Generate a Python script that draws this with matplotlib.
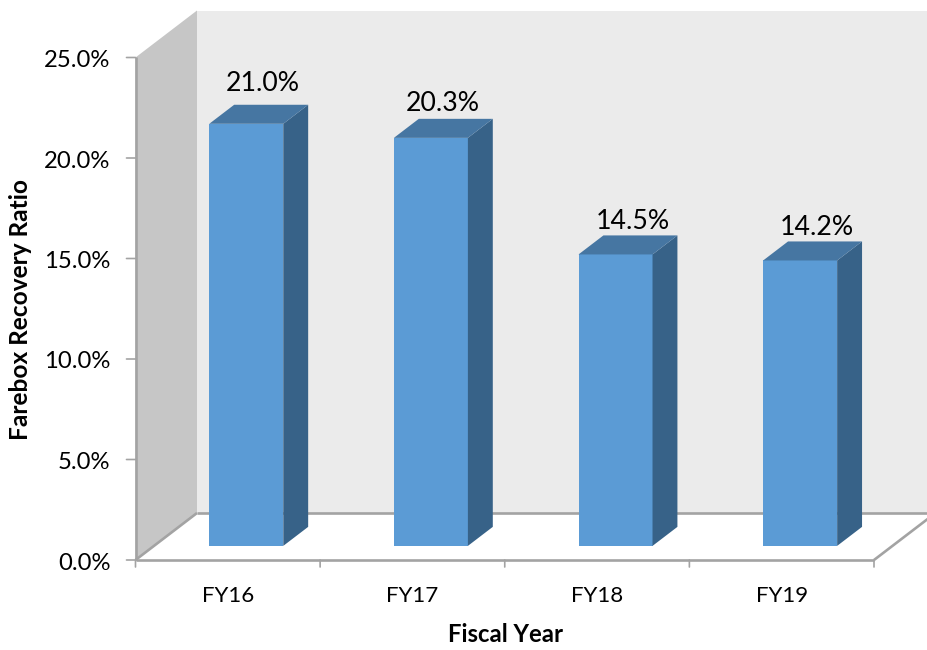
import matplotlib
matplotlib.use("Agg")
import matplotlib.pyplot as plt
from matplotlib.patches import Polygon

plt.rcParams['font.family'] = ['Lato', 'DejaVu Sans']

categories = ["FY16", "FY17", "FY18", "FY19"]
values = [21.0, 20.3, 14.5, 14.2]
value_labels = ["21.0%", "20.3%", "14.5%", "14.2%"]
y_ticks = [0, 5, 10, 15, 20, 25]
y_tick_labels = ["0.0%", "5.0%", "10.0%", "15.0%", "20.0%", "25.0%"]

W, H = 927, 650
L, R, T, B = 135.5, 874, 57.5, 560

fig = plt.figure(figsize=(W / 100, H / 100), dpi=100, facecolor="white")
ax = fig.add_axes([L / W, 1 - B / H, (R - L) / W, (B - T) / H])
ax.set_xlim(0, 4)
ax.set_ylim(0, 25)
ax.axis("off")

ux = (R - L) / 4      # pixels per category
uy = (B - T) / 25     # pixels per percent
DX, DY = 61.5, 47.0   # full chart depth, pixels


def P(x, y, d=0.0):
    """data position x,y pushed back by depth fraction d"""
    return (x + d * DX / ux, y + d * DY / uy)


def poly(pts, **kw):
    ax.add_patch(Polygon(pts, closed=True, clip_on=False, **kw))


GRAY = "#a3a3a3"
# back wall
poly([P(0, 0, 1), P(4, 0, 1), P(4, 25, 1), P(0, 25, 1)], fc="#ebebeb", ec="none", zorder=1)
# side wall
poly([P(0, 0), P(0, 0, 1), P(0, 25, 1), P(0, 25)], fc="#c6c6c6", ec="none", zorder=2)
# floor
poly([P(0, 0), P(4, 0), P(4, 0, 1), P(0, 0, 1)], fc="white", ec="none", zorder=2)


def seg(a, b, lw=1.9, z=3):
    ax.plot([a[0], b[0]], [a[1], b[1]], color=GRAY, lw=lw, clip_on=False,
            solid_capstyle="butt", zorder=z)


seg(P(0, 0, 1), P(4, 0, 1))
seg(P(0, 0), P(0, 0, 1))
seg(P(4, 0), P(4, 0, 1))
seg(P(0, 0), P(4, 0))
seg(P(0, 0), P(0, 25))

# ticks
for t, lab in zip(y_ticks, y_tick_labels):
    ax.annotate("", xy=(0, t), xytext=(-9, 0), textcoords="offset pixels",
                arrowprops=dict(arrowstyle="-", color=GRAY, lw=1.2, shrinkA=0, shrinkB=0))
    ax.annotate(lab, xy=(0, t), xytext=(-25, -3), textcoords="offset pixels",
                ha="right", va="center", fontsize=17.2, color="black")
for i in range(5):
    ax.annotate("", xy=(i, 0), xytext=(0, -7), textcoords="offset pixels",
                arrowprops=dict(arrowstyle="-", color=GRAY, lw=1.2, shrinkA=0, shrinkB=0))
for i, c in enumerate(categories):
    ax.annotate(c, xy=(i + 0.5, 0), xytext=(0, -36), textcoords="offset pixels",
                ha="center", va="center", fontsize=16, color="black")

# bars
FRONT_D, BACK_D = 0.30, 0.705
BAR_W = 74 / ux
label_shift_x = [-8, -13, -8, -8]
label_shift_y = [21, 15, 14, 14]
for i, (v, lab) in enumerate(zip(values, value_labels)):
    x0 = i + 0.5 - BAR_W / 2
    x1 = i + 0.5 + BAR_W / 2
    poly([P(x0, 0, FRONT_D), P(x1, 0, FRONT_D), P(x1, v, FRONT_D), P(x0, v, FRONT_D)],
         fc="#5b9bd5", ec="none", zorder=5)
    poly([P(x1, 0, FRONT_D), P(x1, 0, BACK_D), P(x1, v, BACK_D), P(x1, v, FRONT_D)],
         fc="#376288", ec="none", zorder=5)
    poly([P(x0, v, FRONT_D), P(x1, v, FRONT_D), P(x1, v, BACK_D), P(x0, v, BACK_D)],
         fc="#4676a2", ec="none", zorder=5)
    tx, ty = P(i + 0.5, v, BACK_D)
    ax.annotate(lab, xy=(tx, ty), xytext=(label_shift_x[i], label_shift_y[i]),
                textcoords="offset pixels",
                ha="center", va="center", fontsize=19.2, color="black", zorder=6)

fig.text(505 / W, 1 - 635 / H, "Fiscal Year", ha="center", va="center",
         fontsize=17.2, fontweight="bold")
fig.text(21 / W, 1 - 309 / H, "Farebox Recovery Ratio", ha="center", va="center",
         rotation=90, fontsize=17.6, fontweight="bold")

fig.savefig("out.png", dpi=100)
